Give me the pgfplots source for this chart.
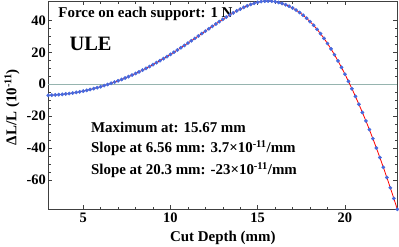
\documentclass[border=0pt]{standalone}
\usepackage{fontspec}
\setmainfont{Liberation Serif}
\usepackage{pgfplots}
\usepackage{pgfplotstable}
\pgfplotsset{compat=1.18}
\definecolor{mblue}{RGB}{70,105,222}
\definecolor{zline}{RGB}{150,180,175}
\pgfplotstableread{
x y
3.0 -6.98
3.2 -6.88
3.4 -6.74
3.6 -6.57
3.8 -6.37
4.0 -6.13
4.2 -5.85
4.4 -5.53
4.6 -5.17
4.8 -4.77
5.0 -4.33
5.2 -3.85
5.4 -3.33
5.6 -2.77
5.8 -2.18
6.0 -1.55
6.2 -0.88
6.4 -0.18
6.6 0.55
6.8 1.32
7.0 2.13
7.2 2.97
7.4 3.85
7.6 4.77
7.8 5.73
8.0 6.73
8.2 7.76
8.4 8.84
8.6 9.95
8.8 11.09
9.0 12.28
9.2 13.49
9.4 14.74
9.6 16.02
9.8 17.33
10.0 18.68
10.2 20.05
10.4 21.44
10.6 22.86
10.8 24.31
11.0 25.78
11.2 27.26
11.4 28.75
11.6 30.25
11.8 31.76
12.0 33.28
12.2 34.79
12.4 36.28
12.6 37.76
12.8 39.23
13.0 40.68
13.2 42.09
13.4 43.44
13.6 44.73
13.8 45.96
14.0 47.13
14.2 48.21
14.4 49.17
14.6 50.02
14.8 50.76
15.0 51.38
15.2 51.84
15.4 52.11
15.6 52.19
15.8 52.08
16.0 51.78
16.2 51.30
16.4 50.66
16.6 49.86
16.8 48.90
17.0 47.78
17.2 46.48
17.4 44.98
17.6 43.28
17.8 41.38
18.0 39.28
18.2 36.97
18.4 34.44
18.6 31.69
18.8 28.72
19.0 25.53
19.2 22.12
19.4 18.49
19.6 14.64
19.8 10.57
20.0 6.28
20.2 1.80
20.4 -2.85
20.6 -7.65
20.8 -12.61
21.0 -17.73
21.2 -23.02
21.4 -28.49
21.6 -34.14
21.8 -39.97
22.0 -45.98
22.2 -52.16
22.4 -58.50
22.6 -65.00
22.8 -71.66
23.0 -78.48
}\datatable
\begin{document}
\begin{tikzpicture}
\path[use as bounding box] (-48.3bp,-37.7bp) rectangle (350.7bp,209.3bp);
\begin{axis}[
  scale only axis, width=349bp, height=208.3bp,
  at={(0,0)}, anchor=south west,
  xmin=3, xmax=23, ymin=-78.48, ymax=52.19,
  xtick={5,10,15,20}, ytick={-60,-40,-20,0,20,40},
  minor x tick num=4, minor y tick num=3,
  tick align=inside,
  major tick length=4bp, minor tick length=2.5bp,
  axis line style={line width=0.8bp, color=black!75},
  every tick/.style={black!75, line width=0.6bp},
  ticklabel style={font=\fontsize{14.5}{16}\selectfont\bfseries},
  yticklabel style={xshift=1bp},
  /pgf/number format/assume math mode=true,
  xlabel={Cut Depth (mm)},
  ylabel={ΔL/L (10\textsuperscript{-11})},
  label style={font=\fontsize{15}{17}\selectfont\bfseries},
  xlabel style={at={(axis description cs:0.5,-0.156)}, anchor=base},
  ylabel style={at={(axis description cs:-0.104,0.491)}, anchor=center},
  clip=false,
]
\addplot[draw=zline, line width=1bp] coordinates {(3,0) (23,0)};
\addplot[draw=red, line width=0.8bp, no marks] table[x=x,y=y] {\datatable};
\addplot[only marks, mark=*, mark size=1.7bp, mark options={fill=mblue, draw=mblue}] table[x=x,y=y] {\datatable};
\node[anchor=base west, font=\fontsize{15}{17}\selectfont\bfseries] at (axis description cs:0.019,0.922) {Force on each support: 1 N};
\node[anchor=base west, font=\fontsize{20.5}{22}\selectfont\bfseries] at (axis description cs:0.051,0.760) {ULE};
\node[anchor=base west, inner sep=0pt, font=\fontsize{15}{17}\selectfont\bfseries] at (axis description cs:0.122,0.370) {Maximum at: 15.67 mm};
\node[anchor=base west, inner sep=0pt, font=\fontsize{15}{17}\selectfont\bfseries] at (axis description cs:0.122,0.272) {Slope at 6.56 mm: 3.7×10\textsuperscript{-11}/mm};
\node[anchor=base west, inner sep=0pt, font=\fontsize{15}{17}\selectfont\bfseries] at (axis description cs:0.122,0.168) {Slope at 20.3 mm: -23×10\textsuperscript{-11}/mm};
\end{axis}
\end{tikzpicture}
\end{document}
